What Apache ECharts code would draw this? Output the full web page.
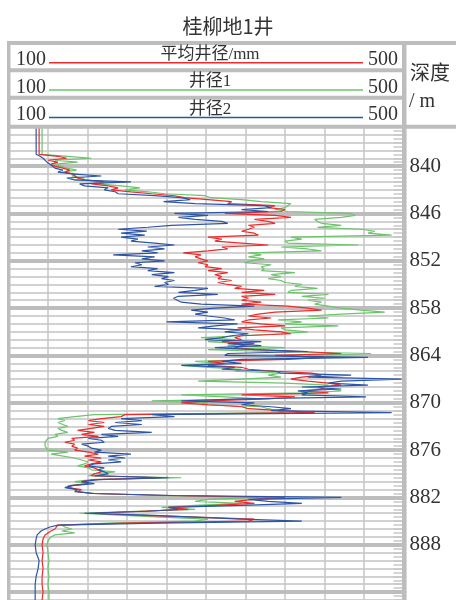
<!DOCTYPE html>
<html><head><meta charset="utf-8">
<script src="https://cdn.jsdelivr.net/npm/echarts@6/dist/echarts.min.js"></script>
<style>html,body{margin:0;padding:0;background:#fff}#c{width:456px;height:600px}</style>
</head><body><div id="c"></div>
<script>
// Depth samples (m)
const depths = [
 835, 838.5, 838.75,
 839, 839.25, 839.5, 839.75,
 840, 840.25, 840.5, 840.75,
 841, 841.25, 841.5, 841.75,
 842, 842.25, 842.5, 842.75,
 843, 843.25, 843.5, 843.75,
 844, 844.25, 844.5, 844.75,
 845, 845.25, 845.5, 845.75,
 846, 846.25, 846.5, 846.75,
 847, 847.25, 847.5, 847.75,
 848, 848.25, 848.5, 848.75,
 849, 849.25, 849.5, 849.75,
 850, 850.25, 850.5, 850.75,
 851, 851.25, 851.5, 851.75,
 852, 852.25, 852.5, 852.75,
 853, 853.25, 853.5, 853.75,
 854, 854.25, 854.5, 854.75,
 855, 855.25, 855.5, 855.75,
 856, 856.25, 856.5, 856.75,
 857, 857.25, 857.5, 857.75,
 858, 858.25, 858.5, 858.75,
 859, 859.25, 859.5, 859.75,
 860, 860.25, 860.5, 860.75,
 861, 861.25, 861.5, 861.75,
 862, 862.25, 862.5, 862.75,
 863, 863.25, 863.5, 863.75,
 864, 864.25, 864.5, 864.75,
 865, 865.25, 865.5, 865.75,
 866, 866.25, 866.5, 866.75,
 867, 867.25, 867.5, 867.75,
 868, 868.25, 868.5, 868.75,
 869, 869.25, 869.5, 869.75,
 870, 870.25, 870.5, 870.75,
 871, 871.25, 871.5, 871.75,
 872, 872.25, 872.5, 872.75,
 873, 873.25, 873.5, 873.75,
 874, 874.25, 874.5, 874.75,
 875, 875.25, 875.5, 875.75,
 876, 876.25, 876.5, 876.75,
 877, 877.25, 877.5, 877.75,
 878, 878.25, 878.5, 878.75,
 879, 879.25, 879.5, 879.75,
 880, 880.25, 880.5, 880.75,
 881, 881.25, 881.5, 881.75,
 882, 882.25, 882.5, 882.75,
 883, 883.25, 883.5, 883.75,
 884, 884.25, 884.5, 884.75,
 885, 885.25, 885.5, 885.75,
 886, 886.25, 886.5, 886.75,
 887, 887.25, 887.5,
 888, 889, 890, 891, 892, 893, 894, 895
];
// 平均井径 (mm)
const caliperAvg = [
 131, 131, 150,
 159, 140, 150, 143,
 147, 155, 162, 157,
 165, 167, 170, 177,
 197, 184, 201, 211,
 204, 224, 245, 268,
 278, 302, 326, 322,
 370, 363, 380, 376,
 319, 370, 386, 349,
 363, 370, 343, 349,
 343, 336, 349, 353,
 302, 316, 309, 336,
 363, 316, 322, 302,
 277, 295, 289, 295,
 302, 292, 302, 299,
 316, 302, 322, 309,
 316, 312, 326, 312,
 322, 336, 329, 359,
 336, 370, 336, 343,
 336, 356, 336, 383,
 403, 417, 370, 353,
 343, 366, 343, 336,
 356, 380, 332, 349,
 376, 386, 336, 329,
 336, 316, 349, 336,
 329, 349, 397, 437,
 370, 420, 383, 302,
 319, 302, 336, 343,
 370, 407, 417, 397,
 386, 403, 424, 437,
 413, 420, 397, 424,
 336, 390, 363, 302,
 275, 302, 336, 343,
 343, 410, 218, 214,
 194, 181, 197, 181,
 197, 184, 170, 187,
 174, 191, 164, 167,
 157, 167, 164, 170,
 167, 181, 191, 177,
 194, 181, 194, 184,
 177, 187, 191, 194,
 187, 184, 255, 187,
 174, 181, 164, 160,
 174, 170, 184, 262,
 380, 349, 329, 349,
 309, 262, 282, 235,
 187, 228, 289, 349,
 343, 218, 150, 148,
 147, 143, 140, 137,
 137, 135, 134,
 134, 135, 134, 135, 134, 134, 135, 134
];
// 井径1 (mm)
const caliper1 = [
 134, 134, 160,
 184, 147, 170, 147,
 145, 159, 169, 154,
 170, 164, 177, 167,
 201, 191, 214, 233,
 218, 241, 258, 299,
 305, 336, 356, 386,
 386, 380, 370, 383,
 446, 451, 437, 410,
 413, 417, 437, 413,
 457, 471, 464, 488,
 386, 397, 380, 383,
 454, 376, 403, 417,
 343, 356, 343, 359,
 346, 339, 366, 356,
 359, 356, 390, 366,
 376, 363, 376, 380,
 397, 390, 413, 386,
 383, 424, 397, 420,
 403, 417, 410, 424,
 437, 457, 481, 437,
 403, 424, 373, 397,
 380, 434, 376, 380,
 403, 376, 336, 295,
 329, 302, 336, 322,
 380, 302, 363, 467,
 403, 420, 356, 289,
 316, 275, 302, 336,
 329, 376, 363, 376,
 336, 292, 380, 424,
 417, 424, 437, 397,
 275, 319, 356, 245,
 302, 295, 356, 363,
 363, 380, 187, 167,
 150, 157, 150, 150,
 160, 150, 154, 160,
 147, 150, 140, 140,
 137, 137, 137, 137,
 140, 160, 143, 143,
 167, 174, 181, 177,
 170, 181, 184, 208,
 187, 181, 275, 184,
 167, 181, 160, 159,
 167, 170, 187, 251,
 353, 302, 289, 336,
 289, 255, 289, 228,
 172, 211, 255, 302,
 289, 201, 154, 157,
 164, 154, 167, 147,
 143, 142, 140,
 139, 140, 141, 140, 141, 140, 141, 141
];
// 井径2 (mm)
const caliper2 = [
 128, 128, 132,
 135, 137, 139, 142,
 144, 147, 155, 150,
 167, 194, 159, 167,
 224, 172, 177, 201,
 197, 208, 211, 248,
 275, 284, 257, 289,
 359, 366, 336, 363,
 268, 302, 272, 289,
 316, 322, 265, 241,
 211, 240, 214, 238,
 214, 231, 224, 248,
 268, 241, 258, 235,
 251, 206, 248, 235,
 258, 228, 235, 224,
 251, 241, 268, 245,
 262, 255, 268, 258,
 262, 248, 302, 289,
 272, 312, 272, 267,
 265, 275, 295, 349,
 309, 285, 302, 289,
 302, 319, 329, 260,
 332, 309, 292, 336,
 319, 343, 326, 316,
 299, 356, 322, 356,
 309, 349, 403, 322,
 319, 464, 336, 316,
 336, 275, 329, 316,
 370, 376, 447, 403,
 498, 437, 424, 464,
 397, 437, 393, 403,
 397, 462, 336, 275,
 349, 336, 366, 386,
 366, 488, 245, 268,
 214, 235, 208, 235,
 204, 201, 208, 245,
 194, 211, 181, 194,
 197, 174, 181, 184,
 194, 187, 224, 201,
 218, 201, 214, 187,
 181, 197, 191, 197,
 201, 187, 262, 191,
 174, 187, 164, 157,
 170, 167, 187, 268,
 437, 343, 363, 397,
 336, 262, 272, 241,
 177, 241, 289, 336,
 397, 251, 150, 142,
 137, 133, 132, 129,
 131, 128, 127,
 127, 128, 131, 130, 128, 127, 127, 127
];
const majorDepths = [840, 846, 852, 858, 864, 870, 876, 882, 888, 894];
const depthLabels = [840, 846, 852, 858, 864, 870, 876, 882, 888];
const trackNames = ['平均井径/mm', '井径1', '井径2'];
const scaleMin = 100, scaleMax = 500;
const depthMin = 835, depthMax = 895;

const RED = '#ec2b2b', GREEN = '#6cc46c', BLUE = '#2d55a6', FRAME = '#bdbdbd', TXT = '#333333';
const SERIF = '"Liberation Serif", "Noto Sans CJK SC", serif';
const chart = echarts.init(document.getElementById('c'), null, {renderer: 'canvas'});

const gTop = 126.7, gH = 475.2;
const toPairs = arr => depths.map((d, i) => [arr[i], d]);

const rowY = [45, 72.3, 99.7];
const rowColors = [RED, GREEN, BLUE];
const graphics = [];
const band = (x, y, w, h) => graphics.push({type: 'rect', shape: {x, y, width: w, height: h}, style: {fill: FRAME}, silent: true, z: 100});
band(7, 41, 449, 4);
band(7, 41, 3.5, 560);
band(7, 68.3, 396, 4);
band(7, 95.7, 396, 4);
band(7, 124.7, 449, 4);
band(402, 41, 4.5, 560);
rowY.forEach((y, i) => {
  graphics.push({type: 'line', shape: {x1: 49, y1: y + 17.7, x2: 363, y2: y + 17.7}, style: {stroke: rowColors[i], lineWidth: 1.5}, silent: true, z: 100});
  graphics.push({type: 'text', x: 16, y: y + 15, style: {text: String(scaleMin), font: '20px ' + SERIF, fill: TXT, textVerticalAlign: 'middle'}, silent: true, z: 100});
  graphics.push({type: 'text', x: 398, y: y + 15, style: {text: String(scaleMax), font: '20px ' + SERIF, fill: TXT, textAlign: 'right', textVerticalAlign: 'middle'}, silent: true, z: 100});
  graphics.push({type: 'text', x: 210, y: y + 9.5, style: {text: trackNames[i], font: '17px ' + SERIF, fill: TXT, textAlign: 'center', textVerticalAlign: 'middle'}, silent: true, z: 100});
});
graphics.push({type: 'text', x: 430, y: 75, style: {text: '深度', font: '20px ' + SERIF, fill: TXT, textAlign: 'center', textVerticalAlign: 'middle'}, silent: true, z: 100});
graphics.push({type: 'text', x: 422, y: 102, style: {text: '/ m', font: '20px ' + SERIF, fill: TXT, textAlign: 'center', textVerticalAlign: 'middle'}, silent: true, z: 100});

const lineSeries = (name, arr, color) => ({
  name, type: 'line', xAxisIndex: 0, yAxisIndex: 0, data: toPairs(arr),
  showSymbol: false, symbol: 'none', lineStyle: {color, width: 1.2}, itemStyle: {color},
  z: 5, clip: true, animation: false
});

chart.setOption({
  animation: false,
  backgroundColor: '#ffffff',
  title: {text: '桂柳地1井', left: 'center', top: 11, textStyle: {fontSize: 20, fontWeight: 'normal', color: TXT, fontFamily: '"Noto Sans CJK SC"'}},
  grid: [
    {left: 8.5, top: gTop, width: 395, height: gH},
    {left: 406.5, top: gTop, width: 49.5, height: gH}
  ],
  xAxis: [
    {type: 'value', gridIndex: 0, min: scaleMin, max: scaleMax, interval: 40,
     axisLine: {show: false}, axisTick: {show: false}, axisLabel: {show: false},
     splitLine: {show: true, lineStyle: {color: '#c6c6c6', width: 1.5}}},
    {type: 'value', gridIndex: 1, min: 0, max: 1, show: false}
  ],
  yAxis: [
    {type: 'value', gridIndex: 0, inverse: true, min: depthMin, max: depthMax, interval: 1,
     axisLine: {show: false}, axisTick: {show: false}, axisLabel: {show: false},
     splitLine: {show: true, lineStyle: {color: '#d2d2d2', width: 2}}},
    {type: 'value', gridIndex: 1, inverse: true, min: depthMin, max: depthMax, interval: 0.5, position: 'right',
     axisLine: {show: false},
     axisTick: {show: true, inside: true, length: 13, lineStyle: {color: '#c8c8c8', width: 1.5}},
     axisLabel: {show: true, inside: true, margin: 15, color: TXT, fontSize: 21, fontFamily: SERIF,
       customValues: depthLabels, hideOverlap: false},
     splitLine: {show: false}}
  ],
  series: [
    {type: 'line', xAxisIndex: 0, yAxisIndex: 0, data: [[scaleMin, depthMin]], showSymbol: false, lineStyle: {opacity: 0}, z: 1,
     markLine: {silent: true, symbol: ['none', 'none'], label: {show: false}, animation: false,
       lineStyle: {color: FRAME, width: 4, type: 'solid'}, emphasis: {disabled: true},
       data: majorDepths.map(d => ({yAxis: d}))}},
    lineSeries('井径1', caliper1, GREEN),
    lineSeries('平均井径', caliperAvg, RED),
    lineSeries('井径2', caliper2, BLUE)
  ],
  graphic: graphics
});
</script></body></html>
